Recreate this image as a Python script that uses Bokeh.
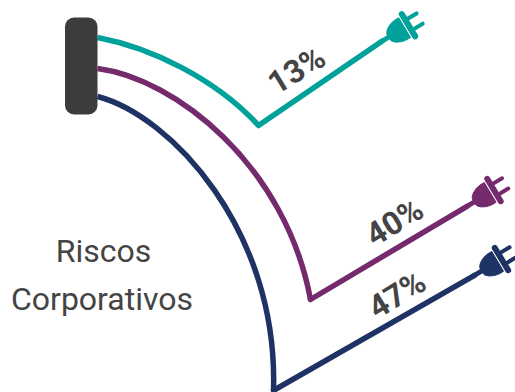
import math
from bokeh.plotting import figure
from bokeh.models import Range1d
from bokeh.core.properties import value
from bokeh.embed import file_html
from bokeh.resources import INLINE

shares = ["13%", "40%", "47%"]
colors = ["#00a19a", "#742a6c", "#1f3264"]
title_lines = ["Riscos", "Corporativos"]

p = figure(width=515, height=392, output_backend="svg", toolbar_location=None,
           x_range=Range1d(0, 515), y_range=Range1d(392, 0), min_border=0,
           outline_line_color=None, background_fill_color="white",
           border_fill_color="white")
p.axis.visible = False
p.grid.visible = False

# cable routes: bezier from the socket, then a straight run up to the plug
curves = [
    (97, 37, 258, 125, 150, 47, 215, 78),
    (97, 68, 310, 299, 175, 78, 285, 165),
    (97, 96, 273, 390, 170, 115, 278, 230),
]
plug_anchor = [(381, 41), (466.5, 205.8), (474, 274.8)]
label_pos = [(296, 69.5), (394, 221.5), (396.5, 294)]
angle = math.radians(31)


def local(u, v, ox, oy):
    """Plug-local coordinates (u along the cord, v across it) to canvas units."""
    c, s = math.cos(angle), math.sin(angle)
    return ox + u * c + v * s, oy - u * s + v * c


dome_u = [-1, 8, 9, 12, 17, 22, 27, 27, 22, 17, 12, 9, 8, -1]
dome_v = [-2, -2, -5, -8, -10.5, -11.5, -11.5, 11.5, 11.5, 10.5, 8, 5, 2, 2]

for (x0, y0, x1, y1, cx0, cy0, cx1, cy1), (ax, ay), color in zip(curves, plug_anchor, colors):
    p.bezier(x0=[x0], y0=[y0], x1=[x1], y1=[y1], cx0=[cx0], cy0=[cy0], cx1=[cx1], cy1=[cy1],
             line_color=color, line_width=5.5)
    p.line([x1, ax], [y1, ay], line_color=color, line_width=5.5, line_cap="round", line_join="round")
    outline = [local(u, v, ax, ay) for u, v in zip(dome_u, dome_v)]
    p.patch([o[0] for o in outline], [o[1] for o in outline], fill_color=color, line_color=color)
    a, b = local(31.5, -13, ax, ay), local(31.5, 13, ax, ay)
    p.line([a[0], b[0]], [a[1], b[1]], line_color=color, line_width=6, line_cap="round")
    for v in (-6, 6):
        a, b = local(35, v, ax, ay), local(44.5, v, ax, ay)
        p.line([a[0], b[0]], [a[1], b[1]], line_color=color, line_width=4, line_cap="round")

# socket block
p.quad(left=[64.5], right=[97], top=[17], bottom=[114], fill_color="#3c3c3b",
       line_color=None, border_radius=9)

p.text(x=[x for x, _ in label_pos], y=[y for _, y in label_pos], text=shares, angle=0.55,
       text_font=value("Roboto"), text_font_style="bold", text_font_size="32px",
       text_color="#444444", text_align="center", text_baseline="middle")
p.text(x=[103, 101.5], y=[250, 298], text=title_lines, text_font=value("Roboto"),
       text_font_size="32px", text_color="#444444", text_align="center", text_baseline="middle")

open("out.html", "w").write(file_html(p, INLINE))
